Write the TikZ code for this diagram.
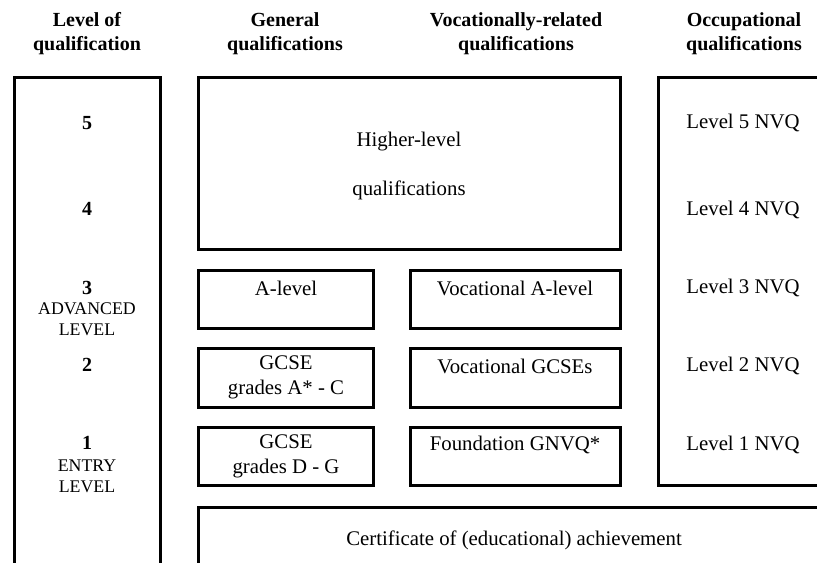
\documentclass[tikz,border=0pt]{standalone}
\usepackage{fontspec}
\setmainfont{Liberation Serif}
\usetikzlibrary{positioning}
\tikzset{
  frame/.style    = {shape=rectangle, draw, line width=1.5pt,
                     inner sep=0pt, anchor=north west},
  size/.style 2 args = {minimum width=#1*0.5pt, minimum height=#2*0.5pt},
  heading/.style  = {font=\bfseries, align=center},
  entry/.style    = {align=center},
  lvl/.style      = {font=\bfseries},
  tag/.style      = {font=\fontsize{8.9}{10.4}\selectfont, align=center}
}

\begin{document}
\begin{tikzpicture}
  [
    x = 0.5pt, y = -0.5pt,
    every node/.style = {font=\fontsize{10.4}{12.5}\selectfont, inner sep=0pt}
  ]
  \useasboundingbox (0,0) rectangle (817,562);
  \clip (0,0) rectangle (817,562);

  % column headings
  \node [heading] (hlevel) at (87,34)  {Level of\\qualification};
  \node [heading] (hgen)   at (285,34) {General\\qualifications};
  \node [heading] (hvoc)   at (516,34) {Vocationally-related\\qualifications};
  \node [heading] (hocc)   at (744,34) {Occupational\\qualifications};

  % frames
  \node [frame, size={146}{524}] (levels) at (13,76)  {};
  \node [frame, size={422}{172}] (higher) at (197,76) {};
  \node [frame, size={200}{408}] (occup)  at (657,76) {};
  \node [frame, size={175}{58}]  (alevel) at (197,269) {};
  \node [frame, size={210}{58}]  (valevel) at (409,269) {};
  \node [frame, size={175}{59}]  (gcseac) at (197,347) {};
  \node [frame, size={210}{59}]  (vgcse)  at (409,347) {};
  \node [frame, size={175}{58}]  (gcsedg) at (197,426) {};
  \node [frame, size={210}{58}]  (gnvq)   at (409,426) {};
  \node [frame, size={700}{200}] (cert)   at (197,506) {};

  % levels
  \node [lvl] (l5) at (87,123) {5};
  \node [lvl] (l4) at (87,209) {4};
  \node [lvl] (l3) at (87,288) {3};
  \node [tag] (adv) at (87,319) {ADVANCED\\LEVEL};
  \node [lvl] (l2) at (87,365) {2};
  \node [lvl] (l1) at (87,443) {1};
  \node [tag] (entry) at (87,476) {ENTRY\\LEVEL};

  % qualifications
  \node [entry] (thigher) at (409,166) {Higher-level\\[12pt]qualifications};
  \node [entry] (talevel) at (286,288) {A-level};
  \node [entry] (tvalevel) at (515,288) {Vocational A-level};
  \node [entry] (tgcseac) at (286,377) {GCSE\\grades A* - C};
  \node [entry] (tvgcse) at (515,366) {Vocational GCSEs};
  \node [entry] (tgcsedg) at (286,456) {GCSE\\grades D - G};
  \node [entry] (tgnvq) at (515,445) {Foundation GNVQ*};
  \node [entry] (tcert) at (514,540) {Certificate of (educational) achievement};

  % NVQ levels
  \foreach \n/\y in {5/123, 4/210, 3/288, 2/366, 1/445}
    \node [entry] (nvq\n) at (743,\y) {Level \n{} NVQ};
\end{tikzpicture}
\end{document}
